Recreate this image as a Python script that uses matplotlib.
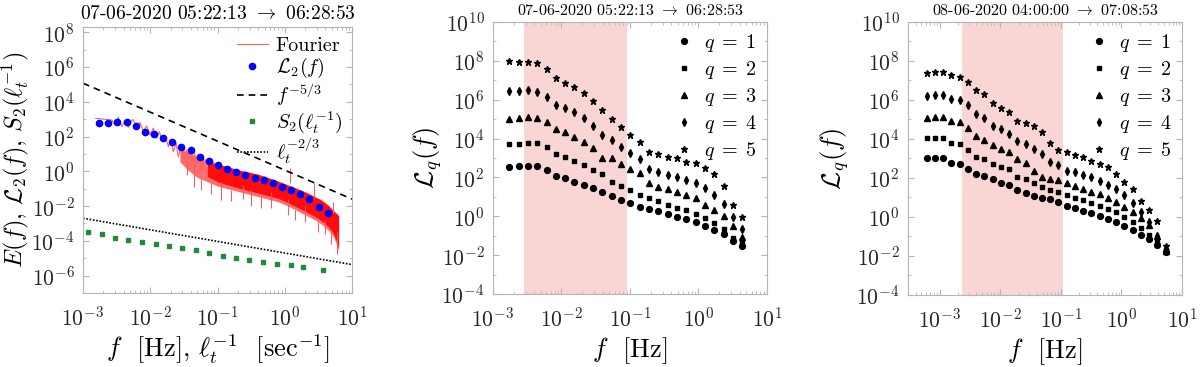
import numpy as np
import matplotlib
matplotlib.use("Agg")
import matplotlib.pyplot as plt
from matplotlib.ticker import LogLocator, NullFormatter

plt.rcParams.update({
    "font.family": "serif",
    "font.serif": ["cmr10"],
    "mathtext.fontset": "cm",
    "axes.formatter.use_mathtext": True,
    "axes.unicode_minus": False,
})

# ---------------- panel 1 data (log10) ----------------
# low-frequency part of the Fourier spectrum
four_f_log = [-2.811, -2.673, -2.573, -2.524, -2.475, -2.425, -2.375, -2.326, -2.261,
              -2.202, -2.152, -2.103, -2.053, -2.004, -1.955, -1.905, -1.865, -1.815,
              -1.781, -1.731, -1.696, -1.657, -1.617, -1.583, -1.543, -1.52, -1.50,
              -1.48, -1.46, -1.44, -1.42, -1.40, -1.38, -1.36, -1.34, -1.32, -1.30,
              -1.28, -1.26, -1.24, -1.22, -1.20]
four_E_log = [3.05, 2.99, 2.95, 2.67, 3.11, 2.57, 2.91, 2.53, 2.99,
              2.61, 2.80, 2.34, 2.61, 2.09, 2.48, 1.90, 2.28, 1.71,
              2.09, 1.42, 1.84, 1.13, 1.61, 0.84, 1.42, 0.75, 1.35,
              0.60, 1.25, 0.90, 1.20, 0.35, 1.10, 0.50, 1.05, 0.20, 0.95,
              0.40, 0.90, -0.10, 0.80, 0.30]
# dense high-frequency part: envelope of the red band
band_f_log = [-1.56, -1.45, -1.3, -1.15, -1.0, -0.85, -0.7, -0.55, -0.4, -0.25,
              -0.1, 0.05, 0.2, 0.35, 0.45, 0.55, 0.65, 0.72, 0.78, 0.80]
band_hi = [1.30, 1.10, 0.85, 0.65, 0.45, 0.28, 0.10, -0.02, -0.15, -0.35,
           -0.55, -0.78, -1.00, -1.25, -1.45, -1.65, -1.95, -2.25, -2.45, -2.55]
band_lo = [0.55, 0.10, -0.35, -0.60, -0.85, -1.00, -1.15, -1.30, -1.45, -1.60,
           -1.75, -2.00, -2.30, -2.60, -2.80, -3.05, -3.40, -3.75, -4.30, -4.60]
# solid core of the band
core_f_log = [-1.15, -1.0, -0.85, -0.7, -0.55, -0.4, -0.25, -0.1, 0.05, 0.2, 0.35,
              0.45, 0.55, 0.65, 0.72, 0.78, 0.80]
core_hi = [0.55, 0.40, 0.25, 0.07, -0.05, -0.18, -0.38, -0.58, -0.80, -1.03, -1.28,
           -1.48, -1.68, -1.98, -2.28, -2.48, -2.58]
core_lo = [-0.30, -0.60, -0.78, -0.95, -1.10, -1.25, -1.40, -1.55, -1.80, -2.10,
           -2.40, -2.60, -2.85, -3.20, -3.55, -4.10, -4.40]
# isolated spikes of the spectrum
spike_f_log = [-1.45, -1.35, -1.25, -1.1, -0.95, -0.8, -0.62, -0.5, -0.35, -0.2,
               0.05, 0.08, 0.15, 0.3, 0.44, 0.5, 0.6, 0.68, 0.72, 0.77]
spike_lo = [-0.20, -0.90, -1.10, -1.30, -1.65, -1.70, -1.60, -2.00, -2.10, -2.10,
            -2.50, -0.70, -2.80, -2.90, -1.60, -3.50, -3.60, -4.20, -2.40, -4.75]
spike_hi = [0.90, 0.40, -0.30, -0.70, -0.60, -1.10, -0.80, -1.00, -1.40, -1.20,
            -1.60, 0.20, -2.20, -2.00, -0.70, -2.90, -2.80, -3.50, -1.75, -3.50]

f_L = [0.00173, 0.00237, 0.00324, 0.00443, 0.00605, 0.00828, 0.01132, 0.01549, 0.02118,
       0.02897, 0.03963, 0.0542, 0.0741, 0.1014, 0.1387, 0.1897, 0.2594, 0.3548, 0.4853,
       0.6637, 0.9078, 1.2417, 1.698, 2.323, 3.177, 4.345]
L2_log = [2.76, 2.80, 2.84, 2.84, 2.61, 2.26, 2.13, 1.92, 1.67, 1.42, 1.23, 0.84, 0.59,
          0.38, 0.14, -0.04, -0.21, -0.37, -0.52, -0.70, -0.88, -1.08, -1.30, -1.60,
          -2.05, -2.39]

f_S2 = [0.0012, 0.0019, 0.0030, 0.0047, 0.0075, 0.0120, 0.019, 0.030, 0.047, 0.075,
        0.119, 0.188, 0.297, 0.480, 0.774, 1.24, 1.85, 3.74]
S2_log = [-3.47, -3.62, -3.82, -3.95, -4.07, -4.20, -4.31, -4.43, -4.54, -4.70,
          -4.85, -5.00, -5.12, -5.22, -5.31, -5.41, -5.49, -5.68]

amp_53 = 1.17      # f^{-5/3} reference line
amp_23 = 2.0e-5    # l_t^{-2/3} reference line

# ---------------- panel 2 data ----------------
p2_f = f_L
p2_log = {
    1: [2.55, 2.59, 2.60, 2.60, 2.38, 2.07, 1.95, 1.78, 1.61, 1.44, 1.26, 1.06, 0.84,
        0.67, 0.50, 0.38, 0.25, 0.13, -0.03, -0.15, -0.30, -0.50, -0.70, -0.92, -1.25, -1.55],
    2: [3.70, 3.74, 3.76, 3.76, 3.55, 3.19, 3.07, 2.86, 2.64, 2.38, 2.18, 1.78, 1.56,
        1.35, 1.09, 0.95, 0.78, 0.60, 0.43, 0.32, 0.10, -0.11, -0.36, -0.64, -1.10, -1.40],
    3: [5.02, 5.06, 5.11, 5.08, 4.87, 4.48, 4.36, 4.10, 3.84, 3.50, 2.98, 2.98, 2.69,
        2.42, 2.25, 1.70, 1.49, 1.39, 1.27, 1.10, 0.93, 0.58, 0.32, 0.02, -0.50, -1.05],
    4: [6.47, 6.47, 6.48, 6.41, 6.16, 5.73, 5.56, 5.38, 5.04, 4.65, 4.18, 3.93, 3.58,
        3.24, 2.93, 2.42, 2.30, 2.13, 2.00, 1.87, 1.70, 1.44, 1.10, 0.63, -0.02, -0.67],
    5: [7.99, 7.96, 7.96, 7.87, 7.56, 7.10, 6.88, 6.64, 6.33, 5.93, 5.47, 4.99, 4.61,
        4.18, 3.84, 3.33, 3.21, 3.07, 2.98, 2.81, 2.73, 2.47, 2.18, 1.56, 0.58, -0.05],
}
p2_band = (0.0028, 0.091)

# ---------------- panel 3 data ----------------
p3_f = [0.000610, 0.000834, 0.00114, 0.00156, 0.00213, 0.00292, 0.00399, 0.00546,
        0.00746, 0.0102, 0.01396, 0.0191, 0.0261, 0.0357, 0.0489, 0.0668, 0.0914,
        0.125, 0.171, 0.234, 0.320, 0.438, 0.598, 0.818, 1.119, 1.531, 2.094, 2.864,
        3.917, 5.358]
p3_log = {
    1: [3.00, 3.00, 3.00, 2.78, 2.71, 2.44, 2.20, 2.10, 1.93, 1.75, 1.63, 1.38, 1.24,
        1.07, 0.95, 0.92, 0.78, 0.56, 0.45, 0.30, 0.18, 0.06, -0.10, -0.25, -0.45,
        -0.65, -0.90, -1.12, -1.45, -1.78],
    2: [4.03, 4.03, 4.03, 3.80, 3.72, 3.43, 3.08, 2.95, 2.74, 2.57, 2.44, 2.06, 1.97,
        1.72, 1.55, 1.40, 1.30, 1.12, 0.98, 0.88, 0.72, 0.58, 0.42, 0.25, 0.00,
        -0.25, -0.55, -0.90, -1.30, -1.70],
    3: [5.10, 5.13, 5.13, 4.93, 4.88, 4.54, 4.14, 3.97, 3.68, 3.51, 3.31, 2.95, 2.78,
        2.37, 2.06, 1.95, 1.89, 1.72, 1.58, 1.46, 1.29, 1.17, 0.95, 0.75, 0.50,
        0.25, -0.05, -0.40, -0.95, -1.75],
    4: [6.19, 6.24, 6.24, 6.07, 5.99, 5.73, 5.27, 5.10, 4.66, 4.49, 4.28, 3.90, 3.73,
        3.51, 3.25, 2.83, 2.66, 2.37, 2.32, 2.15, 2.07, 1.86, 1.64, 1.42, 1.13,
        0.70, 0.25, -0.25, -0.95, -1.65],
    5: [7.36, 7.41, 7.41, 7.27, 7.18, 6.93, 6.50, 6.33, 5.82, 5.59, 5.39, 4.93, 4.83,
        4.66, 4.37, 3.77, 3.43, 3.34, 3.17, 3.08, 2.86, 2.74, 2.57, 2.19, 1.80,
        1.41, 0.83, 0.35, -0.20, -1.49],
}
p3_band = (0.00234, 0.107)

markers = {1: ("o", 4.2), 2: ("s", 3.2), 3: ("^", 4.2), 4: ("d", 4.2), 5: ("*", 4.8)}

edge = "#b5b5b5"
txt = "#262626"


def style(ax, ymajor):
    ax.set_xscale("log")
    ax.set_yscale("log")
    ax.set_yticks(ymajor)
    ax.yaxis.set_minor_locator(LogLocator(base=10, subs=(1.0,), numticks=40))
    ax.yaxis.set_minor_formatter(NullFormatter())
    ax.set_xticks([1e-3, 1e-2, 1e-1, 1e0, 1e1])
    ax.xaxis.set_minor_locator(LogLocator(base=10, subs=np.arange(2, 10), numticks=40))
    ax.xaxis.set_minor_formatter(NullFormatter())
    ax.tick_params(which="both", direction="in", top=True, right=True,
                   color=edge, labelcolor=txt, labelsize=15.5)
    ax.tick_params(axis="x", pad=9)
    ax.tick_params(axis="y", pad=6)
    ax.tick_params(which="major", length=4)
    ax.tick_params(which="minor", length=2)
    for s in ax.spines.values():
        s.set_color(edge)
        s.set_linewidth(0.8)


fig = plt.figure(figsize=(12, 3.67), dpi=100)
ax1 = fig.add_axes([0.0692, 0.2016, 0.2242, 0.7248])
ax2 = fig.add_axes([0.4108, 0.1989, 0.2283, 0.7411])
ax3 = fig.add_axes([0.7567, 0.1962, 0.2283, 0.7439])

# ---------------- panel 1 ----------------
ax1.fill_between(10 ** np.array(band_f_log), 10 ** np.array(band_lo), 10 ** np.array(band_hi),
                 color="#ff2020", alpha=0.65, lw=0, zorder=2)
ax1.fill_between(10 ** np.array(core_f_log), 10 ** np.array(core_lo), 10 ** np.array(core_hi),
                 color="#ff0c0c", lw=0, zorder=2)
ax1.vlines(10 ** np.array(spike_f_log), 10 ** np.array(spike_lo), 10 ** np.array(spike_hi),
           color="#ff5555", lw=0.7, zorder=2)
ax1.plot(10 ** np.array(four_f_log), 10 ** np.array(four_E_log), color="#ff6060", lw=0.8,
         zorder=2, label="Fourier")
ax1.plot(f_L, 10 ** np.array(L2_log), "o", color="blue", ms=4.5, zorder=4,
         label=r"$\mathcal{L}_2(f)$")
ff = np.logspace(-3, 1, 60)
ax1.plot(ff, amp_53 * ff ** (-5 / 3), "k--", lw=1.2, dashes=(4, 3), label=r"$f^{-5/3}$")
ax1.plot(f_S2, 10 ** np.array(S2_log), "s", color="#228b3b", ms=3, zorder=4,
         label=r"$S_2(\ell_t^{-1})$")
ax1.plot(ff, amp_23 * ff ** (-2 / 3), color="k", ls=(0, (1, 1)), lw=1.2,
         label=r"$\ell_t^{-2/3}$")
style(ax1, 10.0 ** np.arange(-6, 9, 2))
ax1.set_xlim(1e-3, 1e1)
ax1.set_ylim(1e-7, 2e8)
ax1.set_title(r"07-06-2020 05:22:13 $\rightarrow$ 06:28:53", fontsize=14, pad=6)
ax1.set_xlabel(r"$f$  [Hz], $\ell_t^{-1}$  [sec$^{-1}$]", fontsize=19)
ax1.set_ylabel(r"$E(f),\, \mathcal{L}_2(f),\, S_2(\ell_t^{-1})$", fontsize=17.5)
ax1.yaxis.set_label_coords(-0.195, 0.5)
ax1.xaxis.set_label_coords(0.5, -0.15)
ax1.legend(loc="upper right", frameon=False, fontsize=14.5, handlelength=1.5,
           handletextpad=0.4, labelspacing=0.05, borderaxespad=0.1, numpoints=1)

# ---------------- panels 2 and 3 ----------------
for ax, f, series, band, title, xlim, ycoord in [
    (ax2, p2_f, p2_log, p2_band, r"07-06-2020 05:22:13 $\rightarrow$ 06:28:53", (1e-3, 1e1), -0.18),
    (ax3, p3_f, p3_log, p3_band, r"08-06-2020 04:00:00 $\rightarrow$ 07:08:53", (3e-4, 1e1), -0.21),
]:
    ax.axvspan(band[0], band[1], color="#f9d6d4", lw=0, zorder=0)
    for q in range(1, 6):
        m, ms = markers[q]
        ax.plot(f, 10 ** np.array(series[q]), m, color="k", ms=ms, ls="none",
                zorder=3, label=r"$q\;=\;%d$" % q)
    style(ax, 10.0 ** np.arange(-4, 11, 2))
    ax.set_xlim(*xlim)
    ax.set_ylim(1e-4, 1e10)
    ax.set_title(title, fontsize=11.5, pad=5)
    ax.set_xlabel(r"$f$  [Hz]", fontsize=19)
    ax.set_ylabel(r"$\mathcal{L}_q(f)$", fontsize=19)
    ax.yaxis.set_label_coords(ycoord, 0.5)
    ax.xaxis.set_label_coords(0.5, -0.15)
    ax.legend(loc="upper right", frameon=False, fontsize=14.5, handlelength=1.0,
              handletextpad=0.5, labelspacing=0.25, borderaxespad=0.1, numpoints=1)

fig.savefig("out.png", dpi=100)
